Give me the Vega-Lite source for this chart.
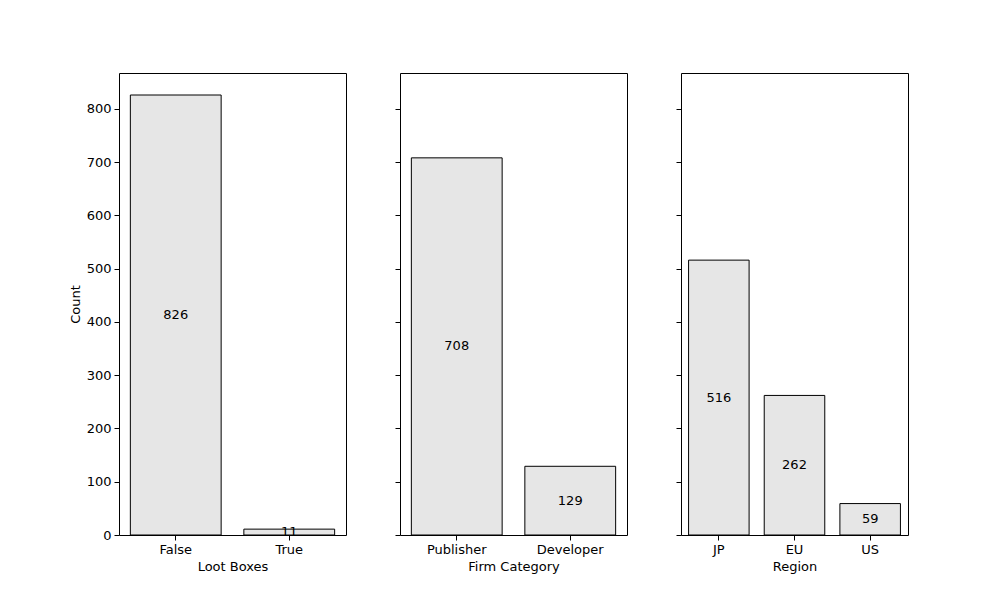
{
"$schema":"https://vega.github.io/schema/vega-lite/v6.json",
"autosize":{"type":"pad"},
"padding":{"left":68,"top":72,"right":0,"bottom":0},
"background":"white",
"config":{"view":{"stroke":"black","strokeWidth":1},"font":"DejaVu Sans",
"axis":{"grid":false,"domain":false,"tickColor":"black","labelColor":"black","titleColor":"black","labelFontSize":13,"titleFontSize":13,"titleFontWeight":"normal","tickSize":5,"labelPadding":3},
"concat":{"spacing":47}},
"datasets":{
"a":[{"cat":"False","count":826},{"cat":"True","count":11}],
"b":[{"cat":"Publisher","count":708},{"cat":"Developer","count":129}],
"c":[{"cat":"JP","count":516},{"cat":"EU","count":262},{"cat":"US","count":59}]},
"hconcat":[
{"width":227,"height":462,"data":{"name":"a"},"transform":[{"calculate":"datum.count/2","as":"mid"}],
"encoding":{"x":{"field":"cat","type":"nominal","sort":null,"title":"Loot Boxes","scale":{"paddingInner":0.2,"paddingOuter":0.1},"axis":{"labelAngle":0}}},
"layer":[
{"mark":{"type":"bar","fill":"#e6e6e6","stroke":"black","strokeWidth":1},"encoding":{"y":{"field":"count","type":"quantitative","title":"Count","scale":{"domain":[0,867.3],"nice":false},"axis":{"values":[0,100,200,300,400,500,600,700,800]}}}},
{"mark":{"type":"text","fontSize":13,"color":"black"},"encoding":{"y":{"field":"mid","type":"quantitative","scale":{"domain":[0,867.3],"nice":false}},"text":{"field":"count"}}}]},
{"width":227,"height":462,"data":{"name":"b"},"transform":[{"calculate":"datum.count/2","as":"mid"}],
"encoding":{"x":{"field":"cat","type":"nominal","sort":null,"title":"Firm Category","scale":{"paddingInner":0.2,"paddingOuter":0.1},"axis":{"labelAngle":0}}},
"layer":[
{"mark":{"type":"bar","fill":"#e6e6e6","stroke":"black","strokeWidth":1},"encoding":{"y":{"field":"count","type":"quantitative","title":null,"scale":{"domain":[0,867.3],"nice":false},"axis":{"labels":false,"values":[0,100,200,300,400,500,600,700,800]}}}},
{"mark":{"type":"text","fontSize":13,"color":"black"},"encoding":{"y":{"field":"mid","type":"quantitative","scale":{"domain":[0,867.3],"nice":false}},"text":{"field":"count"}}}]},
{"width":227,"height":462,"data":{"name":"c"},"transform":[{"calculate":"datum.count/2","as":"mid"}],
"encoding":{"x":{"field":"cat","type":"nominal","sort":null,"title":"Region","scale":{"paddingInner":0.2,"paddingOuter":0.1},"axis":{"labelAngle":0}}},
"layer":[
{"mark":{"type":"bar","fill":"#e6e6e6","stroke":"black","strokeWidth":1},"encoding":{"y":{"field":"count","type":"quantitative","title":null,"scale":{"domain":[0,867.3],"nice":false},"axis":{"labels":false,"values":[0,100,200,300,400,500,600,700,800]}}}},
{"mark":{"type":"text","fontSize":13,"color":"black"},"encoding":{"y":{"field":"mid","type":"quantitative","scale":{"domain":[0,867.3],"nice":false}},"text":{"field":"count"}}}]}
]}
